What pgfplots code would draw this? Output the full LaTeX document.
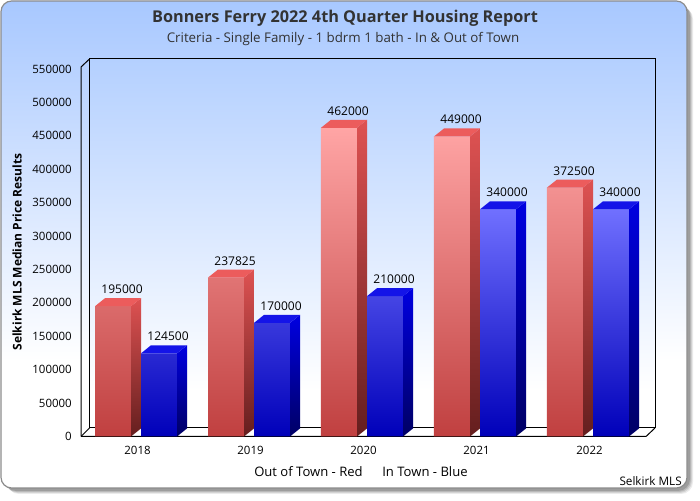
\documentclass[border=0pt]{standalone}
\usepackage{fontspec}
\setmainfont{Open Sans}
\usepackage{pgfplots}
\pgfplotsset{compat=1.18}
\usepackage{pgfplotstable}

\definecolor{bgtop}{RGB}{168,200,255}
\definecolor{walltop}{RGB}{180,208,255}
\definecolor{redtop}{RGB}{255,165,165}
\definecolor{redbot}{RGB}{192,64,64}
\definecolor{redsidetop}{RGB}{222,82,82}
\definecolor{redsidebot}{RGB}{100,30,30}
\definecolor{redcap}{RGB}{236,92,92}
\definecolor{bluetop}{RGB}{112,112,255}
\definecolor{bluebot}{RGB}{0,0,185}
\definecolor{bluesidetop}{RGB}{0,0,225}
\definecolor{bluesidebot}{RGB}{0,0,100}
\definecolor{bluecap}{RGB}{20,20,232}
\definecolor{titlegray}{RGB}{51,51,51}

\pgfdeclareverticalshading{bgshade}{100bp}{color(0bp)=(white); color(25bp)=(white); color(38bp)=(white); color(75bp)=(bgtop); color(100bp)=(bgtop)}
\pgfdeclareverticalshading{wallshade}{100bp}{color(0bp)=(white); color(25bp)=(white); color(30bp)=(white); color(75bp)=(walltop); color(100bp)=(walltop)}

% year index, out of town (red), in town (blue)
\pgfplotstableread{
idx year out in
0 2018 195000 124500
1 2019 237825 170000
2 2020 462000 210000
3 2021 449000 340000
4 2022 372500 340000
}\housing

% bar geometry in axis units
\def\bw{0.3186}
\def\redshift{-0.2168}
\def\blueshift{0.1903}
\def\dx{0.0885}
\def\dy{12000}

% side and top face of one 3D bar: idx, value, shift, side top, side bottom, cap
\newcommand\barfaces[6]{%
  \pgfmathsetmacro\xl{#1+#3-\bw/2}%
  \pgfmathsetmacro\xr{#1+#3+\bw/2}%
  \pgfmathsetmacro\xll{\xl+\dx}%
  \pgfmathsetmacro\xrr{\xr+\dx}%
  \edef\vt{\the\numexpr #2+\dy\relax}%
  \edef\tmp{\noexpand\addplot[draw=none, top color=#4, bottom color=#5, forget plot]
    coordinates {(\xr,0) (\xrr,\dy) (\xrr,\vt) (\xr,#2)};}\tmp
  \edef\tmp{\noexpand\addplot[draw=none, fill=#6, forget plot]
    coordinates {(\xl,#2) (\xll,\vt) (\xrr,\vt) (\xr,#2)};}\tmp
}

\begin{document}
\begin{tikzpicture}
\path[use as bounding box] (0,0) rectangle (525pt,375pt);

\begin{scope}[x=0.75pt,y=-0.75pt,yshift=375pt]
  % card with shadow
  \foreach \o/\a in {6/0.08,5/0.1,4/0.12,3/0.15}
    \fill[black, opacity=\a, rounded corners=9] (1+\o,1+\o) rectangle (687+\o,488+\o);
  \shade[shading=bgshade, rounded corners=8] (1,1) rectangle (687,488);
  \draw[gray!90, line width=0.9pt, rounded corners=8] (1,1) rectangle (687,488);
  % 3D frame
  \shade[shading=wallshade] (89.5,59) rectangle (655,428);
  \fill[white] (81,436.5) -- (646,436.5) -- (655,428) -- (89.5,428) -- cycle;
  \draw[black, line width=0.75pt] (89.5,59) rectangle (655,428);
  \draw[black, line width=0.75pt] (81,436.5) -- (81,67) -- (89.5,59);
  \draw[black, line width=0.75pt] (81,436.5) -- (89.5,428);
  \draw[black, line width=0.75pt] (81,436.5) -- (646,436.5) -- (655,428);
  % titles and notes
  \node[font=\fontsize{12.2}{14}\selectfont\bfseries, text=titlegray] at (345,18) {Bonners Ferry 2022 4th Quarter Housing Report};
  \node[font=\fontsize{10}{12}\selectfont, text=titlegray] at (343,39) {Criteria - Single Family - 1 bdrm 1 bath - In \& Out of Town};
  \node[font=\fontsize{9}{10}\selectfont\bfseries, rotate=90] at (17,252) {Selkirk MLS Median Price Results};
  \node[font=\fontsize{9.8}{11}\selectfont, anchor=base west, inner sep=0pt] at (254,477) {Out of Town - Red\hspace{1.5em}In Town - Blue};
  \node[font=\fontsize{8.8}{10}\selectfont, anchor=base east, inner sep=0pt] at (682,485) {Selkirk MLS};
\end{scope}

\begin{axis}[
    at={(60.75pt,47.625pt)}, anchor=south west,
    scale only axis,
    width=423.75pt, height=275.625pt,
    xmin=-0.5, xmax=4.5,
    ymin=0, ymax=550000,
    clip=false,
    axis line style={draw=none},
    major tick length=0pt,
    xtick={0,1,2,3,4},
    xticklabels={2018,2019,2020,2021,2022},
    ytick={0,50000,100000,150000,200000,250000,300000,350000,400000,450000,500000,550000},
    scaled y ticks=false,
    /pgf/number format/fixed,
    /pgf/number format/1000 sep={},
    /pgf/number format/assume math mode=true,
    tick label style={font=\fontsize{8.6}{10}\selectfont},
    yticklabel style={xshift=-3.4pt},
    xticklabel style={yshift=-4pt},
    every node near coord/.append style={anchor=base, inner sep=0pt,
      yshift=9.4pt, font=\fontsize{9}{10}\selectfont, text=black},
]
\addplot[ybar, bar width=\bw, bar shift=\redshift, draw=none,
  top color=redtop, bottom color=redbot, nodes near coords,
  every node near coord/.append style={xshift=-11.6pt}]
  table[x=idx, y=out] {\housing};
\barfaces{0}{195000}{\redshift}{redsidetop}{redsidebot}{redcap}
\barfaces{1}{237825}{\redshift}{redsidetop}{redsidebot}{redcap}
\barfaces{2}{462000}{\redshift}{redsidetop}{redsidebot}{redcap}
\barfaces{3}{449000}{\redshift}{redsidetop}{redsidebot}{redcap}
\barfaces{4}{372500}{\redshift}{redsidetop}{redsidebot}{redcap}

\addplot[ybar, bar width=\bw, bar shift=\blueshift, draw=none,
  top color=bluetop, bottom color=bluebot, nodes near coords,
  every node near coord/.append style={xshift=22.9pt}]
  table[x=idx, y=in] {\housing};
\barfaces{0}{124500}{\blueshift}{bluesidetop}{bluesidebot}{bluecap}
\barfaces{1}{170000}{\blueshift}{bluesidetop}{bluesidebot}{bluecap}
\barfaces{2}{210000}{\blueshift}{bluesidetop}{bluesidebot}{bluecap}
\barfaces{3}{340000}{\blueshift}{bluesidetop}{bluesidebot}{bluecap}
\barfaces{4}{340000}{\blueshift}{bluesidetop}{bluesidebot}{bluecap}
\end{axis}
\end{tikzpicture}
\end{document}
